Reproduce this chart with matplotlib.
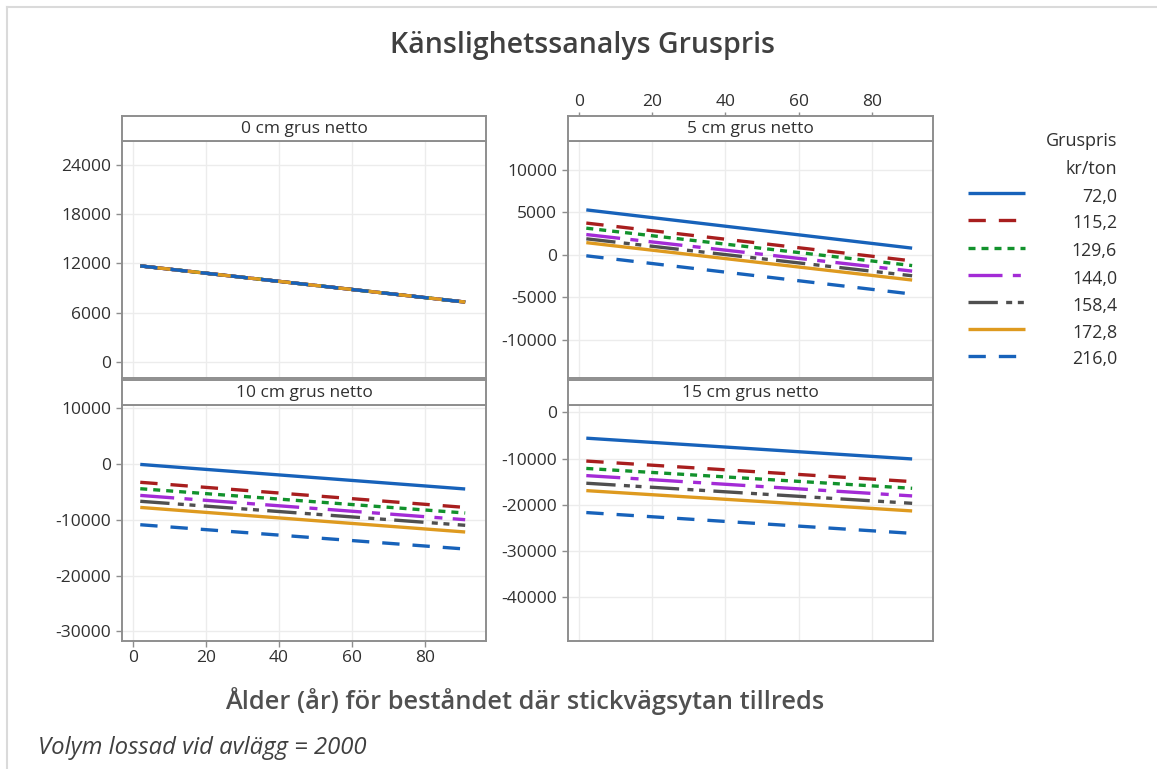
import matplotlib
matplotlib.use("Agg")
import matplotlib.pyplot as plt
from matplotlib.lines import Line2D

# ---------------- data ----------------
ages = [2, 91]
price_labels = ["72,0", "115,2", "129,6", "144,0", "158,4", "172,8", "216,0"]
panel_titles = ["0 cm grus netto", "5 cm grus netto", "10 cm grus netto", "15 cm grus netto"]

g0_start = [11700, 11700, 11700, 11700, 11700, 11700, 11700]
g0_end = [7300, 7300, 7300, 7300, 7300, 7300, 7300]
g5_start = [5300, 3750, 3150, 2400, 1900, 1450, -100]
g5_end = [800, -700, -1250, -1900, -2450, -2950, -4600]
g10_start = [-100, -3300, -4450, -5650, -6700, -7800, -10900]
g10_end = [-4500, -7800, -8800, -10000, -11000, -12200, -15250]
g15_start = [-5600, -10550, -12150, -13700, -15350, -16950, -21700]
g15_end = [-10100, -15000, -16450, -18100, -19700, -21350, -26200]

x_ticks = [0, 20, 40, 60, 80]
y_ticks_0 = [0, 6000, 12000, 18000, 24000]
y_ticks_5 = [-10000, -5000, 0, 5000, 10000]
y_ticks_10 = [-30000, -20000, -10000, 0, 10000]
y_ticks_15 = [-40000, -30000, -20000, -10000, 0]

# ---------------- styles ----------------
LW = 2.4
styles = [
    dict(color="#1762BA", linestyle="-"),
    dict(color="#A81E1E", dashes=(5.2, 3.9)),
    dict(color="#12922C", dashes=(2.1, 1.8)),
    dict(color="#A32BD6", dashes=(10.2, 3.1, 2.4, 3.1)),
    dict(color="#4F4F4F", dashes=(8.8, 2.5, 1.8, 1.7, 1.8, 2.5)),
    dict(color="#DE9A1F", linestyle="-"),
    dict(color="#1762BA", dashes=(5.2, 3.9)),
]

FONT = ["Open Sans", "DejaVu Sans"]
plt.rcParams["font.family"] = FONT
TXT = "#303030"
SPINE = "#8E8E8E"
GRID = "#ECECEC"

W, H = 1157, 769
fig = plt.figure(figsize=(W / 100, H / 100), dpi=100)
fig.patch.set_facecolor("white")


def px_axes(left, top, right, bottom):
    return fig.add_axes([left / W, 1 - bottom / H, (right - left) / W, (bottom - top) / H])


panels = [
    dict(box=(122, 141, 486, 378), strip=(116, 141), ylim=(-1940, 26900), yt=y_ticks_0,
         s=g0_start, e=g0_end, xlab=False, toplab=False),
    dict(box=(568, 141, 933, 378), strip=(116, 141), ylim=(-14470, 13400), yt=y_ticks_5,
         s=g5_start, e=g5_end, xlab=False, toplab=True),
    dict(box=(122, 405, 486, 641), strip=(380, 405), ylim=(-31720, 10540), yt=y_ticks_10,
         s=g10_start, e=g10_end, xlab=True, toplab=False),
    dict(box=(568, 405, 933, 641), strip=(380, 405), ylim=(-49500, 1580), yt=y_ticks_15,
         s=g15_start, e=g15_end, xlab=False, toplab=False),
]

XLIM = (-3.0, 96.7)
TICKFS = 12.5
drawn = []
for i, p in enumerate(panels):
    l, t, r, b = p["box"]
    ax = px_axes(l, t, r, b)
    ax.set_xlim(*XLIM)
    ax.set_ylim(*p["ylim"])
    ax.set_xticks(x_ticks)
    ax.set_yticks(p["yt"])
    ax.set_yticklabels([str(v) for v in p["yt"]], fontsize=TICKFS, color=TXT)
    ax.grid(True, color=GRID, lw=1.0)
    ax.set_axisbelow(True)
    for sp in ax.spines.values():
        sp.set_color(SPINE)
        sp.set_linewidth(1.4)
    ax.tick_params(axis="y", direction="out", length=4.2, width=1, color=SPINE, pad=3.5)
    if p["xlab"]:
        ax.tick_params(axis="x", direction="out", length=4, width=1, color=SPINE,
                       labelsize=TICKFS, labelcolor=TXT, pad=2.5)
    else:
        ax.tick_params(axis="x", length=0, labelbottom=False)
    lines = []
    for k in range(len(price_labels)):
        st = styles[k]
        kw = dict(color=st["color"], lw=LW, solid_capstyle="butt", dash_capstyle="butt")
        if "dashes" in st:
            kw["dashes"] = st["dashes"]
        else:
            kw["linestyle"] = st["linestyle"]
        ln, = ax.plot(ages, [p["s"][k], p["e"][k]], **kw)
        lines.append(ln)
    drawn.append(lines)

    # strip
    st_t, st_b = p["strip"]
    sax = px_axes(l, st_t, r, st_b)
    sax.set_xlim(*XLIM)
    sax.set_ylim(0, 1)
    sax.set_yticks([])
    for sp in sax.spines.values():
        sp.set_color(SPINE)
        sp.set_linewidth(1.4)
    sax.text(0.5, 0.47, panel_titles[i], transform=sax.transAxes, ha="center", va="center",
             fontsize=12.5, color=TXT)
    if p["toplab"]:
        sax.xaxis.tick_top()
        sax.set_xticks(x_ticks)
        sax.set_xticklabels([str(v) for v in x_ticks])
        sax.tick_params(axis="x", direction="out", length=3, width=1, color=SPINE,
                        labelsize=TICKFS, labelcolor=TXT, pad=1.2)
    else:
        sax.set_xticks([])

# ---------------- legend (manual) ----------------
fig.text(1117 / W, 1 - 141 / H, "Gruspris", ha="right", va="center", fontsize=13, color=TXT)
fig.text(1117 / W, 1 - 169 / H, "kr/ton", ha="right", va="center", fontsize=13, color=TXT)
leg_y = [193, 220, 247.5, 275, 302, 329, 356]
for k, lab in enumerate(price_labels):
    src = drawn[1][k]
    yy = 1 - leg_y[k] / H
    ln = Line2D([968 / W, 1025 / W], [yy, yy], transform=fig.transFigure,
                color=src.get_color(), lw=LW, solid_capstyle="butt", dash_capstyle="butt")
    st = styles[k]
    if "dashes" in st:
        ln.set_dashes(st["dashes"])
    fig.add_artist(ln)
    fig.text(1117 / W, 1 - (leg_y[k] + 3.5) / H, lab, ha="right", va="center",
             fontsize=12.8, color=TXT)

# ---------------- titles ----------------
fig.text(582 / W, 1 - 46 / H, "Känslighetssanalys Gruspris", ha="center", va="center",
         fontsize=20.5, fontweight="semibold", color="#404040")
fig.text(525 / W, 1 - 701 / H, "Ålder (år) för beståndet där stickvägsytan tillreds",
         ha="center", va="center", fontsize=18.3, fontweight="semibold", color="#505050")
fig.text(38 / W, 1 - 748 / H, "Volym lossad vid avlägg = 2000", ha="left", va="center",
         fontsize=17.2, style="italic", color="#404040")

# outer frame (top and left visible)
fig.add_artist(Line2D([6.5 / W, 6.5 / W], [1 - 6.5 / H, 0], transform=fig.transFigure,
                      color="#DADADA", lw=1.5))
fig.add_artist(Line2D([6.5 / W, 1], [1 - 6.5 / H, 1 - 6.5 / H], transform=fig.transFigure,
                      color="#DADADA", lw=1.5))

fig.savefig("out.png", dpi=100, facecolor="white")
